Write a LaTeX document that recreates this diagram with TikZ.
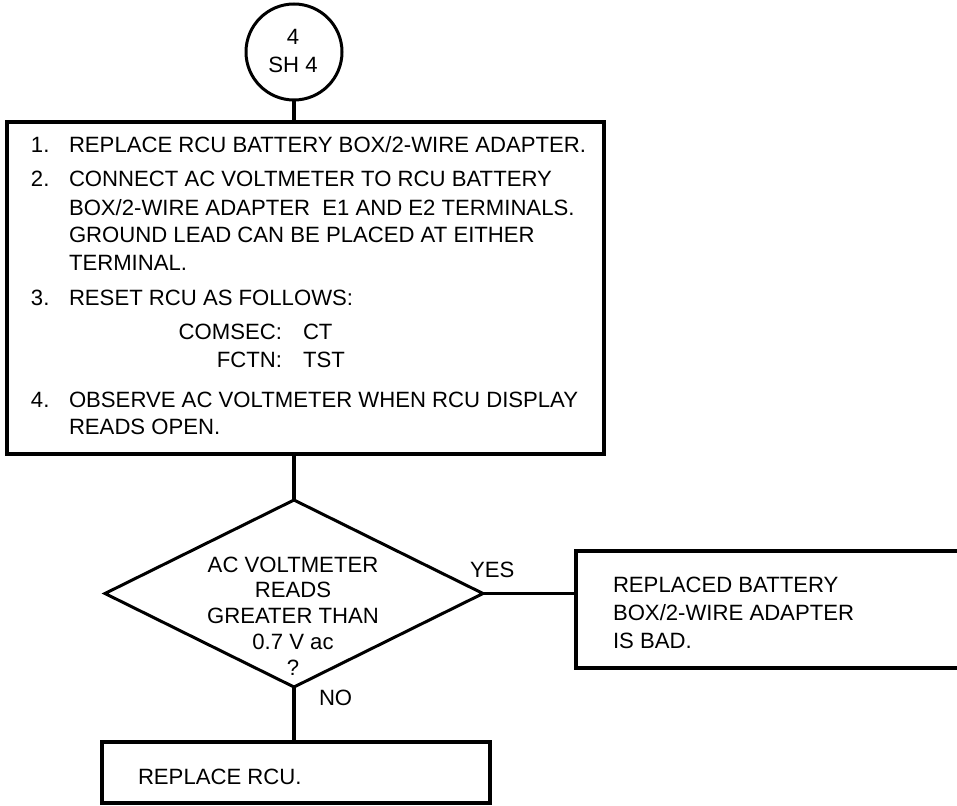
\documentclass[tikz,border=0pt]{standalone}
\usepackage{fontspec}
\setmainfont{Liberation Sans}
\usetikzlibrary{shapes.geometric}
\begin{document}
\begin{tikzpicture}[x=0.75pt,y=-0.75pt,
  txt/.style={inner sep=0pt,outer sep=0pt,font=\fontsize{16.6}{19}\selectfont},
  boxa/.style={draw,line width=3pt,rectangle,inner sep=0pt,outer sep=0pt},
  conn/.style={line width=3pt},
  thinconn/.style={line width=1.6pt}]
\useasboundingbox (0,0) rectangle (957,806);
% shapes
\node[draw,circle,line width=2.25pt,minimum size=72pt,inner sep=0pt,outer sep=0pt] (circ) at (294,52) {};
\node[boxa,minimum width=447.75pt,minimum height=249pt] (main) at (305.5,288) {};
\node[draw,diamond,line width=2.25pt,minimum width=283.5pt,minimum height=140.25pt,inner sep=0pt,outer sep=0pt] (dia) at (294,593.5) {};
\node[boxa,minimum width=318pt,minimum height=87.75pt] (yesbox) at (788,609.5) {};
\node[boxa,minimum width=291pt,minimum height=45.75pt] (nobox) at (296,772.5) {};
% connectors
\draw[conn] (circ.south) -- (circ.south |- main.north);
\draw[conn] (dia.north |- main.south) -- (dia.north);
\draw[thinconn] (dia.east) -- (dia.east -| yesbox.west);
\draw[conn] (dia.south) -- (dia.south |- nobox.north);
% circle text
\node[txt,anchor=base] (c1) at (293,45) {4};
\node[txt,anchor=base] (c2) at (293,73) {SH 4};
% main box text
\node[txt,anchor=base west] (n1) at (31,153) {1.};
\node[txt,anchor=base west] (l1) at (69,153) {REPLACE RCU BATTERY BOX/2-WIRE ADAPTER.};
\node[txt,anchor=base west] (n2) at (31,187) {2.};
\node[txt,anchor=base west] (l2) at (69,187) {CONNECT AC VOLTMETER TO RCU BATTERY};
\node[txt,anchor=base west] (l3) at (69,215) {BOX/2-WIRE ADAPTER\ \ E1 AND E2 TERMINALS.};
\node[txt,anchor=base west] (l4) at (69,243) {GROUND LEAD CAN BE PLACED AT EITHER};
\node[txt,anchor=base west] (l5) at (69,271) {TERMINAL.};
\node[txt,anchor=base west] (n3) at (31,305) {3.};
\node[txt,anchor=base west] (l6) at (69,305) {RESET RCU AS FOLLOWS:};
\node[txt,anchor=base east] (k1) at (282,339) {COMSEC:};
\node[txt,anchor=base west] (v1) at (303,339) {CT};
\node[txt,anchor=base east] (k2) at (282,367) {FCTN:};
\node[txt,anchor=base west] (v2) at (303,367) {TST};
\node[txt,anchor=base west] (n4) at (31,407) {4.};
\node[txt,anchor=base west] (l7) at (69,407) {OBSERVE AC VOLTMETER WHEN RCU DISPLAY};
\node[txt,anchor=base west] (l8) at (69,434) {READS OPEN.};
% diamond text
\node[txt,anchor=base] (d1) at (293,572) {AC VOLTMETER};
\node[txt,anchor=base] (d2) at (293,597) {READS};
\node[txt,anchor=base] (d3) at (293,623) {GREATER THAN};
\node[txt,anchor=base] (d4) at (293,649) {0.7 V ac};
\node[txt,anchor=base] (d5) at (293,675) {?};
% labels
\node[txt,anchor=base west] (yes) at (470,577) {YES};
\node[txt,anchor=base west] (no) at (319,705) {NO};
% yes box text
\node[txt,anchor=base west] (y1) at (613,592) {REPLACED BATTERY};
\node[txt,anchor=base west] (y2) at (613,620) {BOX/2-WIRE ADAPTER};
\node[txt,anchor=base west] (y3) at (613,648) {IS BAD.};
% no box text
\node[txt,anchor=base west] (b1) at (138,784) {REPLACE RCU.};
\end{tikzpicture}
\end{document}
